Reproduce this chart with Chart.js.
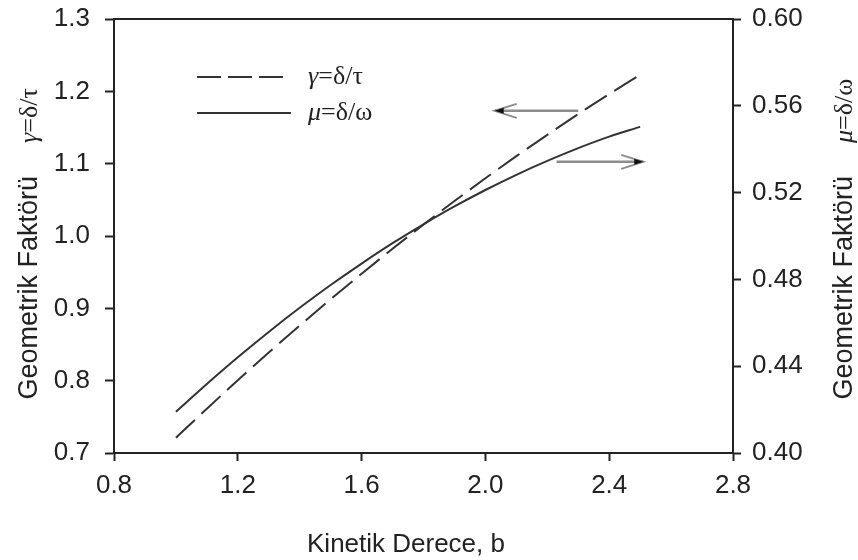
<!DOCTYPE html>
<html>
<head>
<meta charset="utf-8">
<script src="https://cdn.jsdelivr.net/npm/chart.js@4/dist/chart.umd.min.js"></script>
<style>
  html, body { margin: 0; padding: 0; background: #ffffff; }
  #wrap { width: 858px; height: 560px; position: relative; }
</style>
</head>
<body>
<div id="wrap"><canvas id="c" width="858" height="560"></canvas></div>
<script>
// ---- data ----
const kineticOrder = [1.0, 1.1, 1.2, 1.3, 1.4, 1.5, 1.6, 1.7, 1.8, 1.9, 2.0, 2.1, 2.2, 2.3, 2.4, 2.5];
const gammaValues = [0.7210, 0.7612, 0.8005, 0.8388, 0.8761, 0.9125, 0.9479, 0.9823, 1.0158, 1.0483, 1.0798, 1.1104, 1.1399, 1.1686, 1.1962, 1.2230];
const muValues = [0.4190, 0.4318, 0.4441, 0.4558, 0.4669, 0.4774, 0.4873, 0.4967, 0.5054, 0.5136, 0.5212, 0.5282, 0.5346, 0.5405, 0.5458, 0.5503];
const xTicks = [0.8, 1.2, 1.6, 2.0, 2.4, 2.8];
const yLeftTicks = [0.7, 0.8, 0.9, 1.0, 1.1, 1.2, 1.3];
const yRightTicks = [0.40, 0.44, 0.48, 0.52, 0.56, 0.60];
const seriesNames = ['γ=δ/τ', 'μ=δ/ω'];
const xTitle = 'Kinetik Derece, b';
const yTitle = 'Geometrik Faktörü';
// arrows: [fromB, toB, leftAxisValue]
const arrowLeft = [2.30, 2.03, 1.173];
const arrowRight = [2.23, 2.51, 1.1025];

const INK = '#222222';
const CURVE = '#333333';
const ARROW = '#8c8c8c';
const SANS = '"Liberation Sans", Arial, sans-serif';
const SERIF = '"Liberation Serif", "Times New Roman", serif';
const FS = 26;
const TFS = 27;

function drawArrow(ctx, x1, x2, y) {
  ctx.save();
  ctx.strokeStyle = ARROW;
  ctx.lineWidth = 2.5;
  ctx.beginPath();
  ctx.moveTo(x1, y);
  ctx.lineTo(x2, y);
  ctx.stroke();
  const dir = x2 > x1 ? 1 : -1;
  ctx.lineWidth = 2;
  ctx.beginPath();
  ctx.moveTo(x2 - dir * 22, y - 7);
  ctx.lineTo(x2, y);
  ctx.lineTo(x2 - dir * 22, y + 7);
  ctx.stroke();
  ctx.fillStyle = '#111';
  ctx.beginPath();
  ctx.moveTo(x2, y);
  ctx.lineTo(x2 - dir * 9, y - 3);
  ctx.lineTo(x2 - dir * 9, y + 3);
  ctx.closePath();
  ctx.fill();
  ctx.restore();
}

function drawParts(ctx, parts, x, y) {
  let cx = x;
  for (const p of parts) {
    ctx.font = p.font;
    ctx.fillText(p.t, cx, y);
    cx += ctx.measureText(p.t).width;
  }
  return cx;
}
function greekParts(name, size) {
  return [
    { t: name.charAt(0), font: 'italic ' + size + 'px ' + SERIF },
    { t: name.slice(1), font: size + 'px ' + SERIF }
  ];
}

const decorPlugin = {
  id: 'decor',
  afterDraw(chart) {
    const ctx = chart.ctx;
    const a = chart.chartArea;
    const xs = chart.scales.x, yl = chart.scales.y;
    ctx.save();
    // top frame line
    ctx.strokeStyle = INK;
    ctx.lineWidth = 2;
    ctx.beginPath();
    ctx.moveTo(a.left, a.top);
    ctx.lineTo(a.right, a.top);
    ctx.stroke();

    // arrows
    drawArrow(ctx, xs.getPixelForValue(arrowLeft[0]), xs.getPixelForValue(arrowLeft[1]), yl.getPixelForValue(arrowLeft[2]));
    drawArrow(ctx, xs.getPixelForValue(arrowRight[0]), xs.getPixelForValue(arrowRight[1]), yl.getPixelForValue(arrowRight[2]));

    // legend
    const ds = chart.data.datasets;
    const legY = [77, 113];
    const legEnd = [283, 291];
    for (let i = 0; i < 2; i++) {
      ctx.save();
      ctx.strokeStyle = ds[i].borderColor;
      ctx.lineWidth = 2;
      ctx.setLineDash(i === 0 ? [24, 7] : []);
      ctx.beginPath();
      ctx.moveTo(197, legY[i]);
      ctx.lineTo(legEnd[i], legY[i]);
      ctx.stroke();
      ctx.restore();
      ctx.fillStyle = INK;
      ctx.textBaseline = 'alphabetic';
      ctx.textAlign = 'left';
      drawParts(ctx, greekParts(seriesNames[i], 26), 308, legY[i] + 7);
    }

    // x title
    ctx.fillStyle = INK;
    ctx.font = FS + 'px ' + SANS;
    ctx.textAlign = 'center';
    ctx.textBaseline = 'alphabetic';
    ctx.fillText(xTitle, 406, 552);

    // y titles (both read bottom-to-top)
    const sides = [{ x: 37, name: seriesNames[0] }, { x: 852, name: seriesNames[1] }];
    for (const s of sides) {
      ctx.save();
      ctx.translate(s.x, 0);
      ctx.rotate(-Math.PI / 2);
      ctx.textAlign = 'left';
      ctx.textBaseline = 'alphabetic';
      ctx.font = TFS + 'px ' + SANS;
      const w1 = ctx.measureText(yTitle).width;
      const endY = 176;
      ctx.fillText(yTitle, -(endY + w1), 0);
      drawParts(ctx, greekParts(s.name, 26), -endY + 33, 0);
      ctx.restore();
    }
    ctx.restore();
  }
};

const fmt = (d) => (v) => Number(v).toFixed(d);
const noPadY = (w) => (s) => { s.width = w; s.paddingTop = 0; s.paddingBottom = 0; };

new Chart(document.getElementById('c'), {
  type: 'line',
  data: {
    datasets: [
      {
        label: seriesNames[0],
        data: kineticOrder.map((b, i) => ({ x: b, y: gammaValues[i] })),
        yAxisID: 'y',
        borderColor: CURVE,
        borderWidth: 2,
        borderDash: [26, 9],
        pointRadius: 0,
        cubicInterpolationMode: 'monotone',
        fill: false
      },
      {
        label: seriesNames[1],
        data: kineticOrder.map((b, i) => ({ x: b, y: muValues[i] })),
        yAxisID: 'y1',
        borderColor: CURVE,
        borderWidth: 2,
        pointRadius: 0,
        cubicInterpolationMode: 'monotone',
        fill: false
      }
    ]
  },
  options: {
    responsive: false,
    animation: false,
    devicePixelRatio: 1,
    layout: { padding: { top: 19, left: 0, right: 0, bottom: 0 } },
    plugins: { legend: { display: false }, tooltip: { enabled: false }, title: { display: false } },
    scales: {
      x: {
        type: 'linear',
        min: xTicks[0],
        max: xTicks[xTicks.length - 1],
        afterBuildTicks: (s) => { s.ticks = xTicks.map(v => ({ value: v })); },
        afterFit: (s) => { s.height = 107; s.paddingLeft = 0; s.paddingRight = 0; },
        ticks: { callback: fmt(1), color: INK, font: { family: SANS, size: FS }, padding: 9, maxRotation: 0, autoSkip: false },
        grid: { drawOnChartArea: false, drawTicks: true, tickLength: 8, tickWidth: 2, tickColor: INK },
        border: { display: true, color: INK, width: 2 }
      },
      y: {
        type: 'linear',
        position: 'left',
        min: yLeftTicks[0],
        max: yLeftTicks[yLeftTicks.length - 1],
        afterBuildTicks: (s) => { s.ticks = yLeftTicks.map(v => ({ value: v })); },
        afterFit: noPadY(114),
        ticks: { callback: fmt(1), color: INK, font: { family: SANS, size: FS }, padding: 15, autoSkip: false },
        grid: { drawOnChartArea: false, drawTicks: true, tickLength: 9, tickWidth: 2, tickColor: INK },
        border: { display: true, color: INK, width: 2 }
      },
      y1: {
        type: 'linear',
        position: 'right',
        min: yRightTicks[0],
        max: yRightTicks[yRightTicks.length - 1],
        afterBuildTicks: (s) => { s.ticks = yRightTicks.map(v => ({ value: v })); },
        afterFit: noPadY(125),
        ticks: { callback: fmt(2), color: INK, font: { family: SANS, size: FS }, padding: 11, autoSkip: false },
        grid: { drawOnChartArea: false, drawTicks: true, tickLength: 8, tickWidth: 2, tickColor: INK },
        border: { display: true, color: INK, width: 2 }
      }
    }
  },
  plugins: [decorPlugin]
});
</script>
</body>
</html>
